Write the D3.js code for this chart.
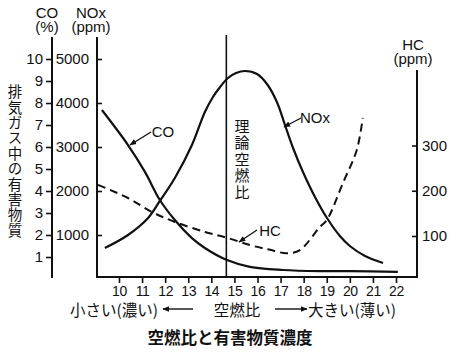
<!DOCTYPE html>
<html>
<head>
<meta charset="utf-8">
<script src="https://cdn.jsdelivr.net/npm/d3@7"></script>
<style>
  body { margin: 0; background: #fff; }
  svg { display: block; }
  text { fill: #111; }
  .num { font-family: "Liberation Sans", Arial, sans-serif; }
  .jp { font-family: "Noto Sans CJK JP", sans-serif; }
  .vert { writing-mode: vertical-rl; }
</style>
</head>
<body>
<div id="chart"></div>
<script>
// 空燃比 (x)
var afrTicks = [10, 11, 12, 13, 14, 15, 16, 17, 18, 19, 20, 21, 22];
var coTicks = [1, 2, 3, 4, 5, 6, 7, 8, 9, 10];
var noxTicks = [1000, 2000, 3000, 4000, 5000];
var hcTicks = [100, 200, 300];

// CO (%)
var coAfr = [9.26, 10.39, 11.13, 11.77, 12.42, 13.16, 13.72, 14.68, 15.67, 17.1, 18.7, 20.0, 22.08];
var coVal = [7.68, 6.09, 4.86, 3.59, 2.68, 1.86, 1.41, 0.86, 0.55, 0.41, 0.36, 0.36, 0.32];

// NOx (ppm)
var noxAfr = [9.39, 10.39, 11.26, 11.77, 12.42, 13.16, 13.72, 14.07, 14.38, 14.72, 15.07, 15.46, 15.98, 16.41, 16.84, 17.19, 17.54, 17.97, 18.49, 19.01, 19.57, 20.0, 20.66, 21.44];
var noxVal = [705, 1000, 1386, 1773, 2295, 3045, 3795, 4136, 4364, 4568, 4682, 4727, 4659, 4432, 4023, 3500, 2977, 2432, 1864, 1386, 977, 750, 523, 364];

// HC (ppm)
var hcAfr = [9.09, 10.39, 11.43, 12.42, 13.72, 14.68, 15.67, 16.5, 17.27, 17.84, 18.7, 19.0, 19.7, 20.3, 20.56];
var hcVal = [213, 184, 153, 131, 109, 96, 80, 70, 62, 69, 120, 135, 217, 290, 361];

var stoich = 14.65;
var yTitle = "排気ガス中の有害物質";
var stoichLabel = "理論空燃比";

var width = 454, height = 352;
var svg = d3.select("#chart").append("svg")
    .attr("width", width).attr("height", height);

var x = d3.scaleLinear().domain([10, 22]).range([119, 396]);
var yCO = d3.scaleLinear().domain([1, 10]).range([257, 59]);
var yNOx = d3.scaleLinear().domain([500, 5000]).range([257, 59]);
var yHC = d3.scaleLinear().domain([100, 300]).range([236, 145.5]);

var axisCoX = 52, axisNoxX = 97, axisHcX = 417, axisY = 277;

// 矢印
var defs = svg.append("defs");
defs.append("marker")
    .attr("id", "head")
    .attr("viewBox", "0 0 10 10")
    .attr("refX", 9).attr("refY", 5)
    .attr("markerWidth", 7).attr("markerHeight", 7)
    .attr("markerUnits", "userSpaceOnUse")
    .attr("orient", "auto")
  .append("path")
    .attr("d", "M0,1 L10,5 L0,9 Z")
    .attr("fill", "#111");

// 軸 CO
var gCO = svg.append("g")
    .attr("class", "num")
    .attr("transform", "translate(" + axisCoX + ",0)")
    .call(d3.axisLeft(yCO).tickValues(coTicks).tickSize(6).tickPadding(3));
gCO.select(".domain").remove();

// 軸 NOx
var gNOx = svg.append("g")
    .attr("class", "num")
    .attr("transform", "translate(" + axisNoxX + ",0)")
    .call(d3.axisLeft(yNOx).tickValues(noxTicks).tickFormat(d3.format("d"))
        .tickSize(-5).tickPadding(8));
gNOx.select(".domain").remove();

// 軸 HC
var gHC = svg.append("g")
    .attr("class", "num")
    .attr("transform", "translate(" + axisHcX + ",0)")
    .call(d3.axisRight(yHC).tickValues(hcTicks).tickSize(-5).tickPadding(5));
gHC.select(".domain").remove();

// 軸 x
var gX = svg.append("g")
    .attr("class", "num")
    .attr("transform", "translate(0," + axisY + ")")
    .call(d3.axisBottom(x).tickValues(afrTicks).tickSize(6).tickPadding(3));
gX.select(".domain").remove();

svg.selectAll(".tick line").attr("stroke", "#111").attr("stroke-width", 1.6);
svg.selectAll(".tick text").attr("font-size", 15).attr("fill", "#111");
gX.selectAll(".tick text").attr("font-size", 14).attr("letter-spacing", -0.4);

var axisLines = [
    [axisCoX, 38, axisCoX, axisY],
    [axisNoxX, 38, axisNoxX, axisY],
    [axisHcX, 71, axisHcX, axisY],
    [axisNoxX, axisY, axisHcX, axisY]
];
svg.selectAll(".axisline").data(axisLines).enter().append("line")
    .attr("class", "axisline")
    .attr("x1", function (d) { return d[0]; })
    .attr("y1", function (d) { return d[1]; })
    .attr("x2", function (d) { return d[2]; })
    .attr("y2", function (d) { return d[3]; })
    .attr("stroke", "#111").attr("stroke-width", 2)
    .attr("stroke-linecap", "square");

// 理論空燃比の線
svg.append("line")
    .attr("x1", x(stoich)).attr("x2", x(stoich))
    .attr("y1", 35).attr("y2", axisY)
    .attr("stroke", "#111").attr("stroke-width", 1.6);

// 曲線
var line = d3.line().curve(d3.curveCatmullRom.alpha(0.5));

function pts(xs, ys, sy) {
    return xs.map(function (v, i) { return [x(v), sy(ys[i])]; });
}

svg.append("path")
    .attr("d", line(pts(coAfr, coVal, yCO)))
    .attr("fill", "none").attr("stroke", "#111").attr("stroke-width", 2.2);

svg.append("path")
    .attr("d", line(pts(noxAfr, noxVal, yNOx)))
    .attr("fill", "none").attr("stroke", "#111").attr("stroke-width", 2.2);

svg.append("path")
    .attr("d", line(pts(hcAfr, hcVal, yHC)))
    .attr("fill", "none").attr("stroke", "#111").attr("stroke-width", 2)
    .attr("stroke-dasharray", "8,5");

// 軸タイトル (2行)
var heads = [
    { a: "CO", b: "(%)", x: 47, y: 18 },
    { a: "NOx", b: "(ppm)", x: 91, y: 18 },
    { a: "HC", b: "(ppm)", x: 413, y: 50 }
];
var headText = svg.selectAll(".head").data(heads).enter().append("text")
    .attr("class", "num head")
    .attr("text-anchor", "middle")
    .attr("font-size", 15);
headText.append("tspan")
    .attr("x", function (d) { return d.x; })
    .attr("y", function (d) { return d.y; })
    .text(function (d) { return d.a; });
headText.append("tspan")
    .attr("x", function (d) { return d.x; })
    .attr("dy", 13.5)
    .text(function (d) { return d.b; });

// 縦書き
svg.append("text")
    .attr("class", "jp vert")
    .attr("x", 15).attr("y", 161.5)
    .attr("text-anchor", "middle")
    .attr("font-size", 14.5)
    .attr("letter-spacing", 0.9)
    .text(yTitle);

svg.append("text")
    .attr("class", "jp vert")
    .attr("x", 242).attr("y", 160)
    .attr("text-anchor", "middle")
    .attr("font-size", 15)
    .attr("letter-spacing", 1.5)
    .text(stoichLabel);

// 曲線ラベル
var labels = [
    { t: "CO", tx: 163, ty: 132, x1: 151, y1: 132, x2: 130, y2: 145 },
    { t: "NOx", tx: 315, ty: 118, x1: 301, y1: 118, x2: 284, y2: 127 },
    { t: "HC", tx: 270, ty: 231, x1: 257, y1: 230, x2: 239, y2: 242 }
];
svg.selectAll(".lbl").data(labels).enter().append("text")
    .attr("class", "num")
    .attr("x", function (d) { return d.tx; })
    .attr("y", function (d) { return d.ty; })
    .attr("dy", "0.35em")
    .attr("text-anchor", "middle")
    .attr("font-size", 15)
    .text(function (d) { return d.t; });
svg.selectAll(".lblarrow").data(labels).enter().append("line")
    .attr("x1", function (d) { return d.x1; })
    .attr("y1", function (d) { return d.y1; })
    .attr("x2", function (d) { return d.x2; })
    .attr("y2", function (d) { return d.y2; })
    .attr("stroke", "#111").attr("stroke-width", 1.4)
    .attr("marker-end", "url(#head)");

// 下の説明
svg.append("text").attr("class", "jp")
    .attr("x", 70).attr("y", 315.5).attr("font-size", 15.5)
    .text("小さい(濃い)");
svg.append("text").attr("class", "jp")
    .attr("x", 237).attr("y", 315.5).attr("font-size", 15.5)
    .attr("text-anchor", "middle")
    .text("空燃比");
svg.append("text").attr("class", "jp")
    .attr("x", 308).attr("y", 315.5).attr("font-size", 15.5)
    .text("大きい(薄い)");
var bottomArrows = [[193, 163], [275, 307]];
svg.selectAll(".barrow").data(bottomArrows).enter().append("line")
    .attr("x1", function (d) { return d[0]; })
    .attr("x2", function (d) { return d[1]; })
    .attr("y1", 309).attr("y2", 309)
    .attr("stroke", "#111").attr("stroke-width", 1.4)
    .attr("marker-end", "url(#head)");

svg.append("text").attr("class", "jp")
    .attr("x", 230).attr("y", 343.5)
    .attr("text-anchor", "middle")
    .attr("font-size", 16.5).attr("font-weight", "bold")
    .text("空燃比と有害物質濃度");
</script>
</body>
</html>
